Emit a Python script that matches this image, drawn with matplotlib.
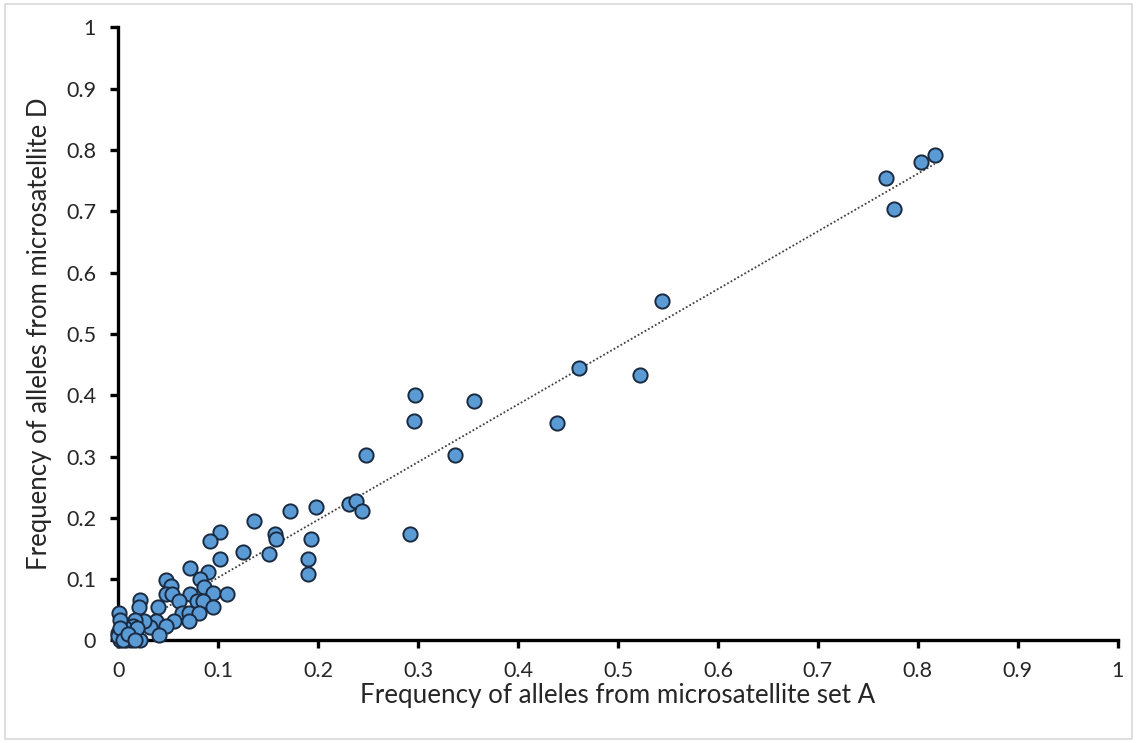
import matplotlib.pyplot as plt
import numpy as np
from matplotlib.patches import Rectangle

plt.rcParams['font.family'] = ['Lato', 'DejaVu Sans']

# allele frequencies: set A (x) vs microsatellite D (y)
freq_a = [
    0.817, 0.803, 0.768, 0.776, 0.544, 0.461, 0.522, 0.439, 0.356, 0.297,
    0.296, 0.337, 0.248, 0.292, 0.172, 0.198, 0.136, 0.231, 0.238, 0.244,
    0.157, 0.158, 0.193, 0.190, 0.190, 0.102, 0.092, 0.125, 0.151, 0.102,
    0.072, 0.090, 0.048, 0.082, 0.053, 0.086, 0.048, 0.054, 0.072, 0.095,
    0.109, 0.061, 0.079, 0.085, 0.095, 0.022, 0.021, 0.040, 0.064, 0.071,
    0.081, 0.071, 0.056, 0.038, 0.048, 0.032, 0.026, 0.017, 0.015, 0.007,
    0.001, 0.002, 0.000, 0.041, 0.002, 0.013, 0.022, 0.008, 0.000, 0.002,
    0.005, 0.019, 0.010, 0.017,
]
freq_d = [
    0.792, 0.781, 0.755, 0.704, 0.553, 0.445, 0.433, 0.354, 0.391, 0.400,
    0.358, 0.303, 0.303, 0.173, 0.211, 0.217, 0.195, 0.222, 0.228, 0.211,
    0.174, 0.165, 0.165, 0.133, 0.109, 0.177, 0.162, 0.144, 0.141, 0.133,
    0.119, 0.111, 0.098, 0.100, 0.089, 0.088, 0.076, 0.076, 0.076, 0.077,
    0.076, 0.065, 0.064, 0.064, 0.055, 0.066, 0.055, 0.054, 0.045, 0.045,
    0.044, 0.031, 0.032, 0.031, 0.023, 0.022, 0.031, 0.033, 0.023, 0.021,
    0.044, 0.033, 0.012, 0.009, 0.000, 0.000, 0.000, 0.000, 0.008, 0.020,
    0.000, 0.020, 0.010, 0.000,
]

x = np.array(freq_a)
y = np.array(freq_d)

fig = plt.figure(figsize=(11.37, 7.43), dpi=100)
ax = fig.add_axes([0.104, 0.138, 0.879, 0.825])

# linear trendline
slope, intercept = np.polyfit(x, y, 1)
xl = np.array([x.min(), x.max()])
ax.plot(xl, slope * xl + intercept, linestyle=(0, (1, 1.2)), color='#404040',
        linewidth=1.3, zorder=2)

ax.scatter(x, y, s=105, facecolor='#5B9BD5', edgecolor='#1a2a40',
           linewidth=1.4, zorder=3, clip_on=False)

ax.set_xlim(0, 1)
ax.set_ylim(0, 1)
ticks = np.round(np.arange(0, 1.01, 0.1), 1)
labels = ['0'] + ['%.1f' % t for t in ticks[1:-1]] + ['1']
ax.set_xticks(ticks)
ax.set_xticklabels(labels)
ax.set_yticks(ticks)
ax.set_yticklabels(labels)

for side in ['top', 'right']:
    ax.spines[side].set_visible(False)
for side in ['left', 'bottom']:
    ax.spines[side].set_linewidth(2.4)
    ax.spines[side].set_color('black')

ax.tick_params(axis='both', direction='out', length=6, width=2.4,
               labelsize=15.5, colors='black', labelcolor='#262626')
ax.tick_params(axis='y', pad=10)
ax.tick_params(axis='x', pad=9)

ax.set_xlabel('Frequency of alleles from microsatellite set A', fontsize=18.7,
              color='#262626', labelpad=1)
ax.set_ylabel('Frequency of alleles from microsatellite D', fontsize=18.5,
              color='#262626', labelpad=10)

# outer frame
fig.patches.append(Rectangle((0.004, 0.006), 0.992, 0.988,
                             transform=fig.transFigure, fill=False,
                             edgecolor='#d9d9d9', linewidth=1.2))

fig.savefig('out.png', dpi=100)
plt.close(fig)
